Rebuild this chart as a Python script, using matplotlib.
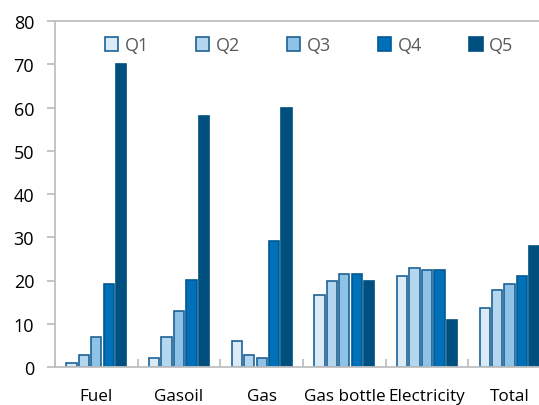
import matplotlib
matplotlib.use("Agg")
import matplotlib.pyplot as plt
import numpy as np

plt.rcParams['font.family'] = ['Open Sans', 'DejaVu Sans']

categories = ["Fuel", "Gasoil", "Gas", "Gas bottle", "Electricity", "Total"]
series = ["Q1", "Q2", "Q3", "Q4", "Q5"]
q1 = [1, 2, 6, 16.7, 21, 13.7]
q2 = [2.8, 7, 2.8, 20, 23, 17.7]
q3 = [6.9, 12.9, 2, 21.4, 22.4, 19.1]
q4 = [19.1, 20.1, 29.1, 21.4, 22.4, 21.1]
q5 = [70, 58.1, 60, 20, 10.9, 28]
values = [q1, q2, q3, q4, q5]

fills = ["#dbeaf7", "#b4d6ef", "#8ec2e7", "#0070b8", "#00507f"]
edges = ["#1d6295", "#1d6295", "#1d6295", "#005a95", "#00507f"]

fig = plt.figure(figsize=(5.39, 4.06), dpi=100)
ax = fig.add_axes([55 / 539, 38 / 406, 496 / 539, 346 / 406])

x = np.arange(len(categories))
step = 0.151
width = 0.125
for i, (name, vals) in enumerate(zip(series, values)):
    ax.bar(x + (i - 2) * step, vals, width, color=fills[i], edgecolor=edges[i],
           linewidth=1.2, label=name)

ax.set_xlim(-0.5, len(categories) - 0.5)
ax.set_ylim(0, 80)
ax.set_yticks(range(0, 81, 10))
ax.set_xticks(x)
ax.set_xticklabels(categories)
ax.set_xticks(np.arange(-0.5, len(categories), 1), minor=True)

grey = "#bfbfbf"
for s in ax.spines.values():
    s.set_color(grey)
    s.set_linewidth(1.3)
ax.tick_params(axis='y', direction='out', length=6, color=grey, width=1.3,
               labelsize=13, pad=9)
ax.tick_params(axis='x', which='major', length=0, labelsize=12.3, pad=15)
ax.tick_params(axis='x', which='minor', direction='in', length=6, color=grey, width=1.3)

leg = ax.legend(loc='upper center', bbox_to_anchor=(0.512, 1.003), ncol=5, frameon=False,
                fontsize=13, handlelength=0.75, handleheight=0.75, handletextpad=0.35,
                columnspacing=2.6, labelcolor="#595959")

fig.savefig("out.png", dpi=100)
